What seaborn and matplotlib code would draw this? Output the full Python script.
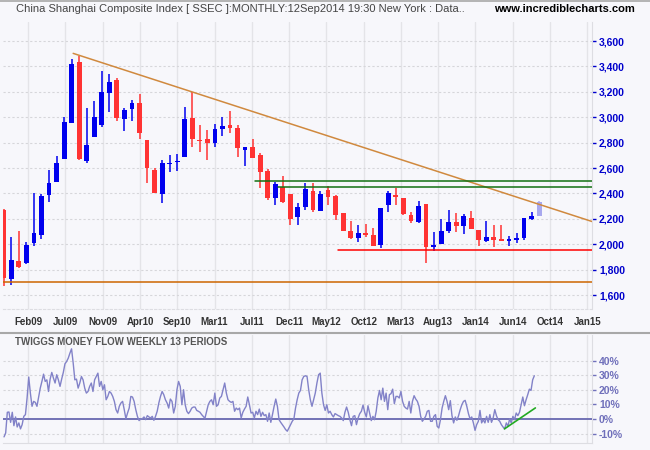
import numpy as np
import pandas as pd
import matplotlib
matplotlib.use("Agg")
import matplotlib.pyplot as plt
from matplotlib.lines import Line2D
import seaborn as sns

# ---------------- data ----------------
months = pd.period_range("2008-10", "2014-09", freq="M").strftime("%b%y").tolist()

open_ = [2269, 1723, 1868, 1855, 2012, 2073, 2388, 2492, 2673, 2957,
         3435, 2658, 2841, 2939, 3193, 3293, 2986, 3062, 3114, 2820,
         2584, 2396, 2631, 2647, 2690, 2991, 2818, 2829, 2799, 2908,
         2939, 2913, 2745, 2768, 2703, 2579, 2364, 2448, 2396, 2217,
         2291, 2419, 2262, 2427, 2380, 2243, 2105, 2052, 2086, 2073,
         1995, 2310, 2380, 2367, 2231, 2174, 2317, 1976, 2005, 2108,
         2176, 2147, 2207, 2113, 2029, 2055, 2036, 2029, 2037, 2050,
         2199, 2225]
high = [2275, 2059, 2104, 2020, 2401, 2395, 2584, 2694, 3000, 3458,
        3485, 3070, 3128, 3364, 3340, 3311, 3075, 3135, 3183, 2820,
        2602, 2663, 2700, 2708, 3078, 3201, 2939, 2900, 2947, 3001,
        3053, 2939, 2768, 2826, 2721, 2590, 2493, 2537, 2396, 2328,
        2480, 2480, 2419, 2459, 2388, 2243, 2184, 2152, 2157, 2131,
        2283, 2420, 2444, 2367, 2254, 2340, 2317, 2097, 2199, 2270,
        2244, 2239, 2261, 2113, 2184, 2153, 2153, 2061, 2087, 2207,
        2254, 2340]
low = [1671, 1679, 1815, 1845, 1986, 2041, 2335, 2492, 2673, 2957,
       2660, 2642, 2841, 2925, 3044, 2973, 2894, 2973, 2826, 2485,
       2402, 2327, 2571, 2576, 2685, 2768, 2729, 2665, 2768, 2852,
       2878, 2690, 2615, 2677, 2445, 2349, 2307, 2322, 2152, 2152,
       2270, 2252, 2262, 2309, 2191, 2107, 2039, 2016, 2059, 1987,
       1969, 2257, 2310, 2230, 2170, 2168, 1855, 1950, 2000, 2087,
       2100, 2082, 2121, 1987, 2018, 1981, 2029, 1990, 2008, 2030,
       2191, 2225]
close = [1737, 1876, 1823, 1994, 2091, 2382, 2479, 2637, 2960, 3419,
         2671, 2781, 3000, 3196, 3277, 2996, 3057, 3114, 2878, 2597,
         2406, 2637, 2639, 2655, 2983, 2826, 2810, 2800, 2906, 2931,
         2913, 2755, 2763, 2677, 2571, 2364, 2474, 2330, 2201, 2296,
         2435, 2270, 2396, 2375, 2230, 2107, 2052, 2091, 2070, 1990,
         2283, 2401, 2375, 2239, 2186, 2301, 1981, 1992, 2105, 2176,
         2147, 2223, 2121, 2034, 2055, 2034, 2029, 2040, 2045, 2207,
         2223, 2333]

price_ticks = [1600, 1800, 2000, 2200, 2400, 2600, 2800, 3000, 3200, 3400, 3600]
x_labels = ["Feb09", "Jul09", "Nov09", "Apr10", "Sep10", "Mar11", "Jul11", "Dec11",
            "May12", "Oct12", "Mar13", "Aug13", "Jan14", "Jun14", "Oct14", "Jan15"]

# trendline anchors (month index, price)
trend_month = [9.2, 25.0]
trend_price = [3503, 3199]
resist_levels = [2498, 2448]
resist_start = [33.3, 36.3]
support_level = 1952
support_start = 44.3
base_level = 1700

# Twiggs money flow (weekly, %)
tmf = [-12.3, -9.6, 4.6, 4.8, -2.3, 4.6, -4.6, 1.4, -5.5, -2.7, -6.8, -3.9, 1.8, 3.0,
       14.4, 28.8, 17.8, 8.7, 12.1, 11.4, 8.7, 15.1, 21.2, 25.8, 30.8, 25.8, 26.9, 18.9,
       27.4, 32.0, 28.1, 24.7, 30.4, 26.9, 22.4, 27.4, 32.0, 37.9, 39.5, 41.8, 45.2, 48.2,
       38.4, 26.9, 27.4, 21.2, 24.7, 29.2, 26.9, 21.2, 17.8, 18.9, 22.4, 24.7, 18.9, 26.9,
       29.2, 31.5, 22.4, 25.8, 20.1, 23.5, 13.2, 15.5, 18.9, 17.8, 15.5, 12.1, 6.4, 4.1,
       8.7, 11.0, 12.1, 6.4, 0.2, 4.1, 7.5, 15.5, 15.1, 12.1, 6.4, 1.8, -1.1, 0.0, 0.2,
       1.4, -0.5, 2.3, 1.4, 0.7, 1.8, -0.9, 1.8,
       5.3, 11.0, 15.5, 18.9, 16.7, 13.2, 11.0, 7.5, 13.7, 12.1, 4.1, 8.7, 20.1, 25.8,
       22.4, 9.8, 20.1, 9.8, 5.3, 3.7, 5.3, 7.5, 8.2, 8.2, 5.9, 5.3, 4.6, 3.0, 1.8, 0.5,
       5.3, 9.8, 12.1, 13.2, 9.8, 17.8, 8.7, 9.8, 14.4, 15.5, 20.1, 24.7, 17.8, 13.2,
       12.1, 11.4, 12.1, 5.3, 7.5, 6.4, 7.5, 0.7, 4.6, 6.8, 8.7, 15.1, 9.8, 4.1, 4.6,
       0.7, 5.3, 3.0, 6.8, 1.8, 4.6, 2.3, 3.0, -1.6, 4.1, -2.3, 3.0, 8.7, 13.7, 8.7,
       -0.5, -2.3, -3.9, -5.5, -7.3, -8.4, -6.2, -3.9, -1.6, 0.0, 7.5, 13.2, 17.8, 19.6,
       26.9, 29.2, 29.7, 29.2, 20.1, 13.2, 8.7, 13.2, 17.8, 24.7,
       30.4, 31.5, 17.8, 9.8, 5.9, 9.8, 4.1, 5.3, 3.0, 1.4, 3.7, 3.0, 2.3, 1.8, 0.7,
       -1.1, 4.6, 8.2, 4.6, -0.5, -4.6, 1.8, 2.3, -3.9, 0.7, 3.7, 5.3, 9.6, 4.6, 1.4,
       9.1, 4.1, -1.1, 1.8, -0.5, 5.3, 14.4, 19.6, 13.2, 21.2, 12.1, 17.8, 6.4, 16.7,
       17.4, 20.5, 10.5, 15.5, 15.5, 14.4, 18.9, 12.1, 8.7, 7.5, 6.8, 12.1, 4.1, 12.1,
       16.0, 13.7, 12.1, 8.7, 1.8, -1.6, 0.0, 1.8, 5.3, 5.9, -1.6, -1.6, 1.8, 3.0,
       -5.0, -6.2, -0.5, 7.5, 12.1, 16.0, 12.1, 6.4, 12.6, 2.3, -2.7, 1.4, -0.9, 2.3,
       6.4, 9.8, 12.1, 12.8, 8.7, 3.7, 0.0, 1.4, -2.7, -7.8, -3.9, -1.6,
       5.9, -2.7, -0.5, -2.7, 1.8, -2.3, 3.0, -2.3, 0.7, 6.4, 2.3, -0.5, -1.6, -3.9,
       -5.5, -6.8, -2.7, -5.0, 0.0, -2.7, 1.8, -0.5, 4.1, 2.3, 4.6, 9.8, 15.1, 9.1,
       13.2, 16.7, 20.5, 19.6, 26.9, 29.7]
tmf_ticks = [-10, 0, 10, 20, 30, 40]
tmf_trend_month = [66.4, 70.5]
tmf_trend_val = [-6.8, 7.6]

# ---------------- style ----------------
sns.set_style("white")
plt.rcParams['font.family'] = ['Liberation Sans', 'DejaVu Sans']

BG = "#F7F7FB"
UP = "#0000EE"
DOWN = "#FF3333"
LIGHT = "#A8A8EE"
VGRID = "#E4E4E8"
HGRID = "#D6D6DA"

W, H = 650, 450
fig = plt.figure(figsize=(6.5, 4.5), dpi=100, facecolor=BG)
x0, x1 = 3.3, 592.0
ax = fig.add_axes([x0 / W, 141 / H, (x1 - x0) / W, 287 / H], facecolor=BG)
ax2 = fig.add_axes([x0 / W, 7 / H, (x1 - x0) / W, 108 / H], facecolor=BG)

xlim = (-0.066, 78.01)
grid_x = 3.236 + 4.943 * np.arange(len(x_labels))

# ---- candles ----
pos = np.arange(len(months))
o = np.array(open_); c = np.array(close); hi = np.array(high); lo = np.array(low)
cols = [UP if cc >= oo else DOWN for oo, cc in zip(o, c)]
cols[-1] = LIGHT
bottom = np.minimum(o, c)
height = np.maximum(np.abs(c - o), 9)
ax.vlines(pos, lo, hi, colors=cols, lw=1.1, zorder=3)
ax.bar(pos, height, bottom=bottom, width=0.64, color=cols, linewidth=0, zorder=4)

# ---- lines ----
slope = (trend_price[1] - trend_price[0]) / (trend_month[1] - trend_month[0])
tx = np.array([trend_month[0], xlim[1]])
ax.plot(tx, trend_price[0] + slope * (tx - trend_month[0]), color="#D0893E", lw=1.1, zorder=5)
for lvl, st in zip(resist_levels, resist_start):
    ax.plot([st, xlim[1]], [lvl, lvl], color="#127012", lw=1.1, zorder=5)
ax.plot([support_start, xlim[1]], [support_level] * 2, color="#FF0000", lw=1.1, zorder=5)
ax.axhline(base_level, color="#CC6600", lw=1.1, zorder=5)

# ---- grids ----
for a in (ax, ax2):
    for g in grid_x:
        a.axvline(g, color=VGRID, lw=1, zorder=0)
for p in price_ticks:
    ax.axhline(p, color=HGRID, lw=0.8, ls=(0, (2, 2)), zorder=0)

ax.set_xlim(*xlim)
ax.set_ylim(1490, 3750)
ax.yaxis.tick_right()
ax.set_yticks(price_ticks)
ax.set_yticklabels([f"{p:,}" for p in price_ticks])
ax.tick_params(axis="y", which="both", length=3, width=1, color="#0000CC", pad=2,
               labelsize=7.5, labelcolor="#0000CC", right=True, left=False)
for t in ax.get_yticklabels():
    t.set_fontweight("bold")
ax.set_xticks(grid_x)
ax.set_xticklabels(x_labels)
ax.tick_params(axis="x", length=0, pad=6, labelsize=7, labelcolor="#333333")
for t in ax.get_xticklabels():
    t.set_fontweight("bold")
for s in ("top", "left"):
    ax.spines[s].set_visible(False)
ax.spines["right"].set_color("#DDDDE2")
ax.spines["bottom"].set_color("#DDDDE2")
ax.spines["bottom"].set_linestyle((0, (2, 2)))

# ---- TMF panel ----
df = pd.DataFrame({"pos": np.linspace(0.03, 70.36, len(tmf)), "tmf": tmf})
sns.lineplot(data=df, x="pos", y="tmf", ax=ax2, color="#8282C8", lw=1.0, zorder=4)
ax2.axhline(0, color="#6868B0", lw=1.3, zorder=3)
ax2.plot(tmf_trend_month, tmf_trend_val, color="#22AA22", lw=1.2, zorder=5)
for t in tmf_ticks:
    if t != 0:
        ax2.axhline(t, color=HGRID, lw=0.8, ls=(0, (2, 2)), zorder=0)
ax2.set_xlim(*xlim)
ax2.set_ylim(-16.5, 57.7)
ax2.set_xlabel(""); ax2.set_ylabel("")
ax2.set_xticks([])
ax2.yaxis.tick_right()
ax2.set_yticks(tmf_ticks)
ax2.set_yticklabels([f"{t}%" for t in tmf_ticks])
ax2.tick_params(axis="y", length=3, width=1, color="#7070BB", pad=2,
                labelsize=7.5, labelcolor="#7070BB", right=True, left=False)
for t in ax2.get_yticklabels():
    t.set_fontweight("bold")
for s in ("top", "left"):
    ax2.spines[s].set_visible(False)
ax2.spines["right"].set_color("#DDDDE2")
ax2.spines["bottom"].set_color("#DDDDE2")

# ---- texts & separators ----
fig.text(16 / W, 1 - 9 / H,
         "China Shanghai Composite Index [ SSEC ]:MONTHLY:12Sep2014 19:30 New York : Data..",
         ha="left", va="center", fontsize=8, color="#444444")
fig.text(494 / W, 1 - 9 / H, "www.incrediblecharts.com", ha="left", va="center",
         fontsize=8, fontweight="bold", color="#000000")
fig.text(15 / W, 1 - 342 / H, "TWIGGS MONEY FLOW WEEKLY 13 PERIODS", ha="left",
         va="center", fontsize=7, fontweight="bold", color="#555555")
fig.add_artist(Line2D([0, 1], [1 - 333 / H] * 2, transform=fig.transFigure,
                      color="#A8A8A8", lw=1.5))
fig.add_artist(Line2D([0, 1], [1 - 0.7 / H] * 2, transform=fig.transFigure,
                      color="#A8A8A8", lw=1.2))

fig.savefig("out.png", dpi=100, facecolor=BG)
